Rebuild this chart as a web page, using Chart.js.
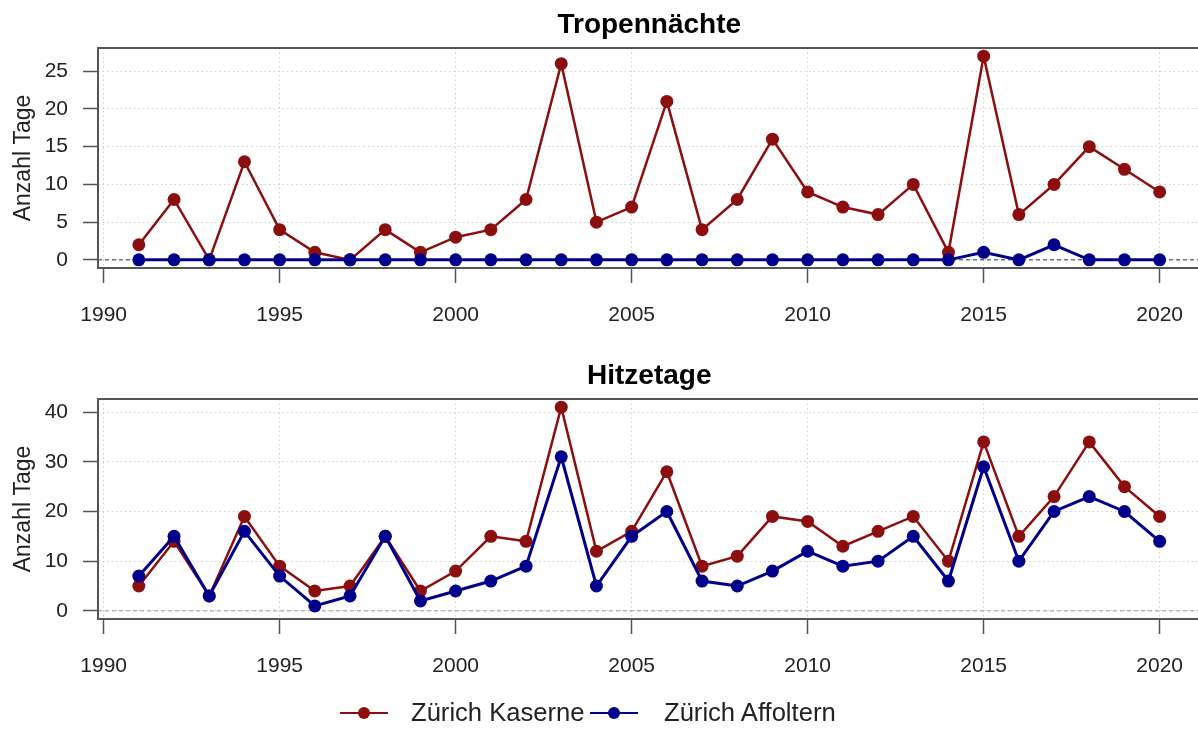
<!DOCTYPE html>
<html>
<head>
<meta charset="utf-8">
<script src="https://cdn.jsdelivr.net/npm/chart.js@4.4.0/dist/chart.umd.min.js"></script>
<style>
  html, body { margin: 0; padding: 0; background: #fff; overflow: hidden; }
  body { width: 1198px; height: 735px; position: relative; font-family: "Liberation Sans", Arial, sans-serif; }
  .panel { position: absolute; left: 0; width: 1207px; height: 351px; }
  .leg-sym { position: absolute; height: 2px; width: 48px; }
  .leg-sym span { position: absolute; left: 18px; top: -5px; width: 12px; height: 12px; border-radius: 50%; }
  .leg-txt { position: absolute; font-size: 25.6px; line-height: 26px; color: #222; white-space: nowrap; }
</style>
</head>
<body>
<div class="panel" style="top:0"><canvas id="tropen" width="1207" height="351"></canvas></div>
<div class="panel" style="top:351px"><canvas id="hitze" width="1207" height="351"></canvas></div>
<div id="legend"></div>
<script>
const years = [1991, 1992, 1993, 1994, 1995, 1996, 1997, 1998, 1999, 2000,
               2001, 2002, 2003, 2004, 2005, 2006, 2007, 2008, 2009, 2010,
               2011, 2012, 2013, 2014, 2015, 2016, 2017, 2018, 2019, 2020];

const tropenKaserne   = [2, 8, 0, 13, 4, 1, 0, 4, 1, 3, 4, 8, 26, 5, 7, 21, 4, 8, 16, 9, 7, 6, 10, 1, 27, 6, 10, 15, 12, 9];
const tropenAffoltern = [0, 0, 0, 0, 0, 0, 0, 0, 0, 0, 0, 0, 0, 0, 0, 0, 0, 0, 0, 0, 0, 0, 0, 0, 1, 0, 2, 0, 0, 0];

const hitzeKaserne    = [5, 14, 3, 19, 9, 4, 5, 15, 4, 8, 15, 14, 41, 12, 16, 28, 9, 11, 19, 18, 13, 16, 19, 10, 34, 15, 23, 34, 25, 19];
const hitzeAffoltern  = [7, 15, 3, 16, 7, 1, 3, 15, 2, 4, 6, 9, 31, 5, 15, 20, 6, 5, 8, 12, 9, 10, 15, 6, 29, 10, 20, 23, 20, 14];

const yearTicks   = [1990, 1995, 2000, 2005, 2010, 2015, 2020];
const tropenTicks = [0, 5, 10, 15, 20, 25];
const hitzeTicks  = [0, 10, 20, 30, 40];

const seriesNames = ["Zürich Kaserne", "Zürich Affoltern"];
const seriesColors = ["#8b0f0f", "#00008b"];

const FONT = "'Liberation Sans', Arial, sans-serif";

// R-like box and dashed zero line
const boxPlugin = {
    id: "rbox",
    beforeDatasetsDraw(chart, args, opts) {
        const { ctx, chartArea: a, scales } = chart;
        const y0 = scales.y.getPixelForValue(0);
        ctx.save();
        ctx.strokeStyle = opts.zeroColor;
        ctx.lineWidth = 1;
        ctx.setLineDash([4, 3]);
        ctx.beginPath();
        ctx.moveTo(a.left, y0);
        ctx.lineTo(a.right, y0);
        ctx.stroke();
        ctx.restore();
    },
    afterDraw(chart) {
        const { ctx, chartArea: a } = chart;
        ctx.save();
        ctx.strokeStyle = "#555";
        ctx.lineWidth = 2;
        ctx.strokeRect(a.left, a.top, a.right - a.left, a.bottom - a.top);
        ctx.restore();
    }
};

const toPoints = (vals) => vals.map((v, i) => ({ x: years[i], y: v }));

function makeChart(id, title, kaserne, affoltern, yTicks, zeroColor) {
    const dataMax = Math.max(...kaserne, ...affoltern);
    const yPad = dataMax * 0.04;
    const xPad = (years[years.length - 1] - years[0]) * 0.04;

    const gridOpts = {
        color: "#cfcfcf",
        lineWidth: 1,
        tickLength: 15,
        tickColor: "#555",
        tickWidth: 1.5,
        tickBorderDash: []
    };

    return new Chart(document.getElementById(id), {
        type: "line",
        data: {
            datasets: [
                {
                    label: seriesNames[0],
                    data: toPoints(kaserne),
                    borderColor: seriesColors[0],
                    backgroundColor: seriesColors[0],
                    borderWidth: 2.5,
                    pointRadius: 6.5,
                    pointBorderWidth: 0,
                    tension: 0,
                    order: 2
                },
                {
                    label: seriesNames[1],
                    data: toPoints(affoltern),
                    borderColor: seriesColors[1],
                    backgroundColor: seriesColors[1],
                    borderWidth: 3,
                    pointRadius: 6.5,
                    pointBorderWidth: 0,
                    tension: 0,
                    order: 1
                }
            ]
        },
        options: {
            responsive: false,
            animation: false,
            devicePixelRatio: 1,
            layout: { padding: 0 },
            plugins: {
                legend: { display: false },
                tooltip: { enabled: false },
                title: {
                    display: true,
                    text: title,
                    fullSize: false,
                    color: "#000",
                    font: { family: FONT, size: 28, weight: "bold" },
                    padding: { top: 8, bottom: 6.4 }
                },
                rbox: { zeroColor: zeroColor }
            },
            scales: {
                x: {
                    type: "linear",
                    min: years[0] - xPad,
                    max: years[years.length - 1] + xPad,
                    afterBuildTicks: (s) => { s.ticks = yearTicks.map((v) => ({ value: v })); },
                    afterFit: (s) => { s.height = 83; },
                    ticks: {
                        font: { family: FONT, size: 21 },
                        color: "#222",
                        padding: 20,
                        maxRotation: 0,
                        autoSkip: false,
                        callback: (v) => String(v)
                    },
                    grid: gridOpts,
                    border: { display: false, dash: [1.5, 3] }
                },
                y: {
                    min: -yPad,
                    max: dataMax + yPad,
                    afterBuildTicks: (s) => { s.ticks = yTicks.map((v) => ({ value: v })); },
                    afterFit: (s) => { s.width = 98; },
                    ticks: {
                        font: { family: FONT, size: 21 },
                        color: "#222",
                        padding: 15,
                        callback: (v) => String(v)
                    },
                    grid: gridOpts,
                    border: { display: false, dash: [1.5, 3] },
                    title: {
                        display: true,
                        text: "Anzahl Tage",
                        color: "#222",
                        font: { family: FONT, size: 23 },
                        padding: { top: 10, bottom: 0 }
                    }
                }
            }
        },
        plugins: [boxPlugin]
    });
}

makeChart("tropen", "Tropennächte", tropenKaserne, tropenAffoltern, tropenTicks, "#333");
makeChart("hitze", "Hitzetage", hitzeKaserne, hitzeAffoltern, hitzeTicks, "#999");

// legend: line-point symbol + label, like R's legend(lty, pch)
const legend = document.getElementById("legend");
const symLeft = [340, 590];
const txtLeft = [411, 664];
seriesNames.forEach((name, i) => {
    const sym = document.createElement("div");
    sym.className = "leg-sym";
    sym.style.left = symLeft[i] + "px";
    sym.style.top = "712px";
    sym.style.background = seriesColors[i];
    const dot = document.createElement("span");
    dot.style.background = seriesColors[i];
    sym.appendChild(dot);
    legend.appendChild(sym);

    const txt = document.createElement("div");
    txt.className = "leg-txt";
    txt.style.left = txtLeft[i] + "px";
    txt.style.top = "699px";
    txt.textContent = name;
    legend.appendChild(txt);
});
</script>
</body>
</html>
